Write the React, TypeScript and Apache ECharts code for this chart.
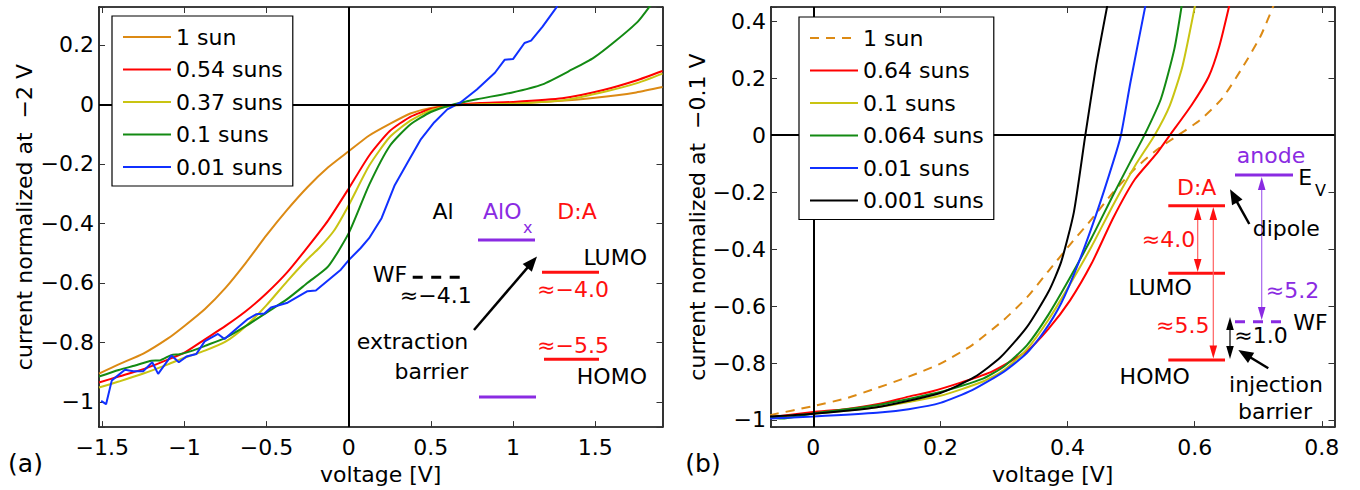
import React, { useEffect, useRef } from "react";
import * as echarts from "echarts";

// ---------------- data: panel (a) ----------------
const leftNames = ["1 sun", "0.54 suns", "0.37 suns", "0.1 suns", "0.01 suns"];
const leftColors = ["#DC8A14", "#FF0000", "#C9C412", "#138A13", "#1030FF"];

const aSun1 = [[-1.52,-0.905],[-1.4,-0.874],[-1.25,-0.838],[-1.1,-0.787],[-1.0,-0.745],[-0.875,-0.688],[-0.75,-0.617],[-0.625,-0.532],[-0.5,-0.44],[-0.375,-0.355],[-0.25,-0.278],[-0.125,-0.212],[0,-0.158],[0.125,-0.105],[0.25,-0.066],[0.375,-0.031],[0.5,-0.012],[0.65,-0.003],[0.8,0.0],[1.0,0.003],[1.25,0.01],[1.5,0.022],[1.75,0.04],[1.91,0.058]];
const aSun054 = [[-1.52,-0.935],[-1.4,-0.915],[-1.25,-0.89],[-1.1,-0.858],[-1.0,-0.835],[-0.875,-0.79],[-0.75,-0.745],[-0.625,-0.695],[-0.5,-0.635],[-0.375,-0.565],[-0.25,-0.48],[-0.125,-0.39],[0,-0.283],[0.125,-0.172],[0.25,-0.09],[0.375,-0.042],[0.5,-0.016],[0.65,-0.002],[0.8,0.004],[1.0,0.008],[1.3,0.02],[1.55,0.048],[1.75,0.08],[1.91,0.112]];
const aSun037 = [[-1.52,-0.952],[-1.4,-0.932],[-1.25,-0.905],[-1.1,-0.874],[-1.0,-0.852],[-0.875,-0.828],[-0.75,-0.798],[-0.625,-0.745],[-0.5,-0.675],[-0.375,-0.595],[-0.25,-0.52],[-0.18,-0.483],[-0.09,-0.425],[0,-0.339],[0.125,-0.206],[0.25,-0.11],[0.375,-0.055],[0.5,-0.02],[0.65,-0.003],[0.8,0.0],[1.04,0.003],[1.31,0.014],[1.57,0.044],[1.76,0.072],[1.91,0.103]];
const aSun01 = [[-1.52,-0.915],[-1.4,-0.893],[-1.3,-0.878],[-1.2,-0.862],[-1.15,-0.861],[-1.08,-0.843],[-1.03,-0.84],[-0.95,-0.828],[-0.875,-0.812],[-0.75,-0.785],[-0.625,-0.745],[-0.5,-0.7],[-0.375,-0.655],[-0.25,-0.6],[-0.125,-0.545],[0,-0.433],[0.125,-0.27],[0.25,-0.14],[0.375,-0.068],[0.5,-0.026],[0.62,-0.003],[0.78,0.017],[0.99,0.039],[1.18,0.067],[1.36,0.117],[1.49,0.156],[1.62,0.211],[1.76,0.278],[1.84,0.335]];
const aSun001 = [[-1.507,-0.997],[-1.477,-1.008],[-1.442,-0.928],[-1.362,-0.892],[-1.311,-0.897],[-1.251,-0.897],[-1.196,-0.867],[-1.16,-0.906],[-1.079,-0.844],[-1.034,-0.867],[-0.988,-0.848],[-0.927,-0.839],[-0.877,-0.797],[-0.796,-0.772],[-0.756,-0.789],[-0.675,-0.75],[-0.614,-0.722],[-0.564,-0.706],[-0.513,-0.703],[-0.473,-0.683],[-0.372,-0.667],[-0.251,-0.628],[-0.2,-0.626],[-0.048,-0.556],[0.003,-0.522],[0.073,-0.483],[0.124,-0.45],[0.2,-0.383],[0.28,-0.272],[0.36,-0.194],[0.44,-0.117],[0.52,-0.061],[0.6,-0.017],[0.68,0.006],[0.78,0.05],[0.89,0.106],[0.95,0.15],[1.0,0.152],[1.07,0.206],[1.11,0.214],[1.18,0.261],[1.27,0.33]];
const leftData = [aSun1, aSun054, aSun037, aSun01, aSun001];

// ---------------- data: panel (b) ----------------
const rightNames = ["1 sun", "0.64 suns", "0.1 suns", "0.064 suns", "0.01 suns", "0.001 suns"];
const rightColors = ["#DC8A14", "#FF0000", "#C9C412", "#138A13", "#1030FF", "#000000"];

const bSun1 = [[-0.068,-0.983],[0,-0.951],[0.05,-0.925],[0.1,-0.888],[0.15,-0.848],[0.2,-0.802],[0.25,-0.737],[0.3,-0.648],[0.336,-0.57],[0.37,-0.477],[0.404,-0.384],[0.438,-0.295],[0.472,-0.2],[0.506,-0.118],[0.54,-0.052],[0.574,0],[0.608,0.052],[0.643,0.128],[0.677,0.244],[0.704,0.349],[0.725,0.46]];
const bSun064 = [[-0.068,-0.99],[0,-0.972],[0.05,-0.962],[0.1,-0.945],[0.15,-0.918],[0.186,-0.9],[0.233,-0.868],[0.281,-0.83],[0.336,-0.758],[0.37,-0.68],[0.404,-0.58],[0.438,-0.45],[0.472,-0.29],[0.506,-0.155],[0.54,-0.065],[0.561,0],[0.595,0.105],[0.622,0.205],[0.639,0.314],[0.655,0.46]];
const bSun01 = [[-0.068,-0.99],[0,-0.978],[0.1,-0.955],[0.2,-0.915],[0.267,-0.865],[0.3,-0.825],[0.336,-0.752],[0.37,-0.648],[0.404,-0.523],[0.438,-0.39],[0.472,-0.244],[0.506,-0.108],[0.537,0],[0.561,0.105],[0.581,0.244],[0.601,0.46]];
const bSun0064 = [[-0.068,-0.99],[-0.05,-0.995],[0,-0.977],[0.1,-0.948],[0.2,-0.902],[0.267,-0.855],[0.3,-0.812],[0.336,-0.738],[0.37,-0.63],[0.404,-0.5],[0.438,-0.36],[0.472,-0.209],[0.499,-0.093],[0.521,0],[0.547,0.128],[0.568,0.302],[0.58,0.46]];
const bSun001 = [[-0.068,-0.995],[0,-0.988],[0.1,-0.975],[0.15,-0.962],[0.2,-0.94],[0.25,-0.895],[0.3,-0.83],[0.336,-0.765],[0.363,-0.69],[0.39,-0.59],[0.417,-0.45],[0.445,-0.279],[0.472,-0.093],[0.484,0],[0.499,0.186],[0.523,0.46]];
const bSun0001 = [[-0.068,-0.988],[0,-0.978],[0.1,-0.955],[0.2,-0.905],[0.254,-0.849],[0.295,-0.779],[0.336,-0.674],[0.37,-0.55],[0.39,-0.445],[0.41,-0.27],[0.428,0],[0.445,0.244],[0.463,0.46]];
const rightData = [bSun1, bSun064, bSun01, bSun0064, bSun001, bSun0001];

// axis ranges
const aX = { min: -1.52, max: 1.91, step: 0.5 };
const aY = { min: -1.085, max: 0.327, step: 0.2 };
const bX = { min: -0.0665, max: 0.82, step: 0.2 };
const bY = { min: -1.025, max: 0.45, step: 0.2 };

const FONT = '"DejaVu Sans", sans-serif';
const PURPLE = "#8A2BE2";
const RED = "#FF1010";

const fmt = (step: number) => (v: number) => {
  const k = v / step;
  if (Math.abs(k - Math.round(k)) > 1e-6) return "";
  const r = Number((Math.round(k) * step).toFixed(3));
  return String(r === 0 ? 0 : r).replace("-", "\u2212");
};

function mkAxis(gridIndex: number, r: any, position: string, labels: boolean, extra: any = {}) {
  const isX = position === "top" || position === "bottom";
  return {
    type: "value",
    gridIndex,
    position,
    min: r.min,
    max: r.max,
    minInterval: r.step,
    maxInterval: r.step,
    splitNumber: Math.round((r.max - r.min) / r.step),
    axisLine: { show: true, onZero: false, lineStyle: { color: "#000", width: 1.6 } },
    axisTick: { show: true, inside: true, length: 6, lineStyle: { color: "#333", width: 1 } },
    axisLabel: {
      show: labels,
      formatter: fmt(r.step),
      fontSize: 22,
      fontFamily: FONT,
      color: "#000",
      margin: isX ? 9 : 5,
      showMinLabel: true,
      showMaxLabel: true,
    },
    splitLine: { show: false },
    ...extra,
  };
}

const nameStyle = { fontSize: 22, fontFamily: FONT, color: "#000" };

function T(text: string, x: number, y: number, fill: string, align = "center", size = 22) {
  return {
    type: "text",
    x,
    y,
    z: 20,
    silent: true,
    style: {
      text,
      fill,
      fontSize: size,
      fontFamily: FONT,
      align,
      verticalAlign: "middle",
      textAlign: align,
      textVerticalAlign: "middle",
    },
  };
}
function L(x1: number, y1: number, x2: number, y2: number, stroke: string, lineWidth = 3, lineDash?: number[]) {
  return { type: "line", z: 20, silent: true, shape: { x1, y1, x2, y2 }, style: { stroke, lineWidth, lineDash } };
}
function head(tx: number, ty: number, fx: number, fy: number, len: number, half: number, fill: string) {
  const dx = tx - fx, dy = ty - fy;
  const d = Math.hypot(dx, dy);
  const ux = dx / d, uy = dy / d;
  const bx = tx - ux * len, by = ty - uy * len;
  return {
    type: "polygon",
    z: 21,
    silent: true,
    shape: { points: [[tx, ty], [bx - uy * half, by + ux * half], [bx + uy * half, by - ux * half]] },
    style: { fill },
  };
}
function arrow(fx: number, fy: number, tx: number, ty: number, color: string) {
  const dx = tx - fx, dy = ty - fy;
  const d = Math.hypot(dx, dy);
  const ex = tx - (dx / d) * 10, ey = ty - (dy / d) * 10;
  return [L(fx, fy, ex, ey, color, 2.5), head(tx, ty, fx, fy, 15, 6, color)];
}
function dArrow(x: number, y1: number, y2: number, lineColor: string, headColor: string) {
  return [
    L(x, y1 + 6, x, y2 - 6, lineColor, 1.2),
    head(x, y1, x, y2, 13, 3.8, headColor),
    head(x, y2, x, y1, 13, 3.8, headColor),
  ];
}

const graphics: any[] = [
  T("(a)", 25.5, 463, "#000", "center", 25),
  T("(b)", 703, 463, "#000", "center", 25),
  // panel (a) energy diagram
  T("Al", 443, 211, "#000"),
  T("AlO", 483, 211, PURPLE, "left"),
  T("x", 523, 227, PURPLE, "left", 16),
  T("D:A", 577, 211, RED),
  L(478, 240, 535, 240, PURPLE),
  L(479, 397, 536, 397, PURPLE),
  T("LUMO", 647, 257.5, "#000", "right"),
  L(542, 272.3, 599, 272.3, RED),
  T("\u2248\u22124.0", 573, 289, RED),
  T("\u2248\u22125.5", 573, 345, RED),
  L(544, 359.3, 599, 359.3, RED),
  T("HOMO", 647, 376, "#000", "right"),
  T("WF", 372.7, 274, "#000", "left"),
  L(412.7, 277.3, 461, 277.3, "#000", 3, [10, 8.5]),
  T("\u2248\u22124.1", 471.7, 295, "#000", "right"),
  T("extraction", 468.3, 341, "#000", "right"),
  T("barrier", 468.3, 371, "#000", "right"),
  ...arrow(474, 330, 537, 256.5, "#000"),
  // panel (b) energy diagram
  T("anode", 1271, 155, PURPLE),
  L(1235, 175, 1293, 175, PURPLE),
  T("E", 1298.3, 177, "#000", "left"),
  T("V", 1315, 190, "#000", "left", 16),
  T("D:A", 1196.7, 187, RED),
  L(1168.3, 205.7, 1225, 205.7, RED),
  L(1168.3, 273.3, 1225, 273.3, RED),
  L(1168.3, 360, 1225, 360, RED),
  T("LUMO", 1160, 287.5, "#000"),
  T("HOMO", 1154.7, 376, "#000"),
  ...dArrow(1197.7, 207, 272, "#FF6060", RED),
  T("\u22484.0", 1168.5, 239, RED),
  ...dArrow(1213.3, 207, 358.5, "#FF6060", RED),
  T("\u22485.5", 1182.8, 325, RED),
  ...dArrow(1261.7, 177, 320, "#A766EE", PURPLE),
  T("\u22485.2", 1292.5, 290, PURPLE),
  L(1235, 321.7, 1284, 321.7, PURPLE, 3, [10, 8]),
  T("WF", 1293.3, 322.5, "#000", "left"),
  ...dArrow(1230, 317, 359, "#000", "#000"),
  T("\u22481.0", 1261, 335, "#000"),
  T("dipole", 1286.3, 228, "#000"),
  ...arrow(1249.3, 224, 1230, 189.3, "#000"),
  T("injection", 1276, 384, "#000"),
  T("barrier", 1275, 411.7, "#000"),
  ...arrow(1268.3, 368.3, 1238.3, 350, "#000"),
];

const zeroLines = {
  silent: true,
  symbol: "none",
  label: { show: false },
  lineStyle: { color: "#000", width: 2, type: "solid" },
  emphasis: { disabled: true },
  data: [{ xAxis: 0 }, { yAxis: 0 }],
};

function mkSeries(prefix: string, names: string[], datas: number[][][], colors: string[], axisIndex: number) {
  return names.map((n, i) => {
    const dashed = prefix === "b" && i === 0;
    const jagged = prefix === "a" && i === names.length - 1;
    return {
      type: "line",
      name: `${prefix}|${n}`,
      data: datas[i],
      xAxisIndex: axisIndex,
      yAxisIndex: axisIndex,
      showSymbol: false,
      symbol: "none",
      smooth: jagged ? false : 0.2,
      clip: true,
      z: 3,
      lineStyle: { color: colors[i], width: 2, type: dashed ? [9, 7] : "solid" },
      itemStyle: { color: colors[i] },
      emphasis: { disabled: true },
      markLine: i === 0 ? zeroLines : undefined,
    };
  });
}

function mkLegend(prefix: string, names: string[], left: number, top: number) {
  return {
    data: names.map((n) => `${prefix}|${n}`),
    orient: "vertical",
    left,
    top,
    itemWidth: 48,
    itemHeight: 20,
    itemGap: 10.5,
    padding: [10, 10, 8, 10],
    borderColor: "#000",
    borderWidth: 1.2,
    borderRadius: 0,
    backgroundColor: "#fff",
    selectedMode: false,
    itemStyle: { opacity: 0 },
    formatter: (n: string) => n.split("|")[1],
    textStyle: { fontSize: 22, fontFamily: FONT, color: "#000", lineHeight: 22 },
    z: 10,
  };
}

const option: any = {
  animation: false,
  backgroundColor: "#fff",
  grid: [
    { left: 99, top: 7, width: 563.5, height: 422 },
    { left: 771, top: 7, width: 563.5, height: 422 },
  ],
  xAxis: [
    mkAxis(0, aX, "bottom", true, { name: "voltage [V]", nameLocation: "middle", nameGap: 33, nameTextStyle: nameStyle }),
    mkAxis(0, aX, "top", false),
    mkAxis(1, bX, "bottom", true, { name: "voltage [V]", nameLocation: "middle", nameGap: 33, nameTextStyle: nameStyle }),
    mkAxis(1, bX, "top", false),
  ],
  yAxis: [
    mkAxis(0, aY, "left", true, { name: "current normalized at  \u22122 V", nameLocation: "middle", nameRotate: 90, nameGap: 64, nameTextStyle: nameStyle }),
    mkAxis(0, aY, "right", false),
    mkAxis(1, bY, "left", true, { name: "current normalized at  \u22120.1 V", nameLocation: "middle", nameRotate: 90, nameGap: 61, nameTextStyle: nameStyle }),
    mkAxis(1, bY, "right", false),
  ],
  legend: [mkLegend("a", leftNames, 112, 16), mkLegend("b", rightNames, 799, 17)],
  series: [
    ...mkSeries("a", leftNames, leftData, leftColors, 0),
    ...mkSeries("b", rightNames, rightData, rightColors, 2),
  ],
  graphic: graphics,
};

export default function App() {
  const ref = useRef<HTMLDivElement>(null);
  useEffect(() => {
    const chart = echarts.init(ref.current!, null, { renderer: "svg", width: 1360, height: 490 });
    chart.setOption(option);
    return () => chart.dispose();
  }, []);
  return <div ref={ref} style={{ position: "absolute", left: 0, top: 0, width: 1360, height: 490 }} />;
}
